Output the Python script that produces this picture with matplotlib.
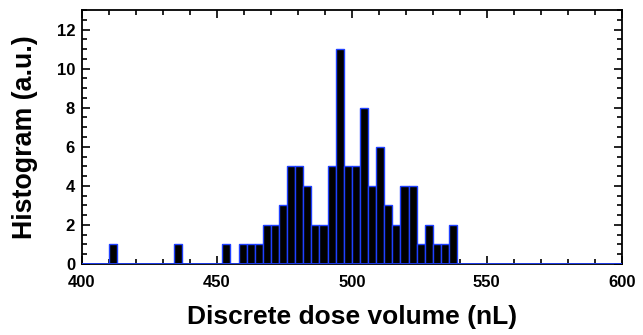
import matplotlib
matplotlib.use("Agg")
import matplotlib.pyplot as plt
from matplotlib.ticker import MultipleLocator

# Data: histogram bins (left edges, nL) and counts
bin_width = 3
bin_left = [410, 413, 416, 419, 422, 425, 428, 431, 434, 437, 440, 443, 446, 449,
            452, 455, 458, 461, 464, 467, 470, 473, 476, 479, 482, 485, 488, 491,
            494, 497, 500, 503, 506, 509, 512, 515, 518, 521, 524, 527, 530, 533, 536]
counts = [1, 0, 0, 0, 0, 0, 0, 0, 1, 0, 0, 0, 0, 0,
          1, 0, 1, 1, 1, 2, 2, 3, 5, 5, 4, 2, 2, 5,
          11, 5, 5, 8, 4, 6, 3, 2, 4, 4, 1, 2, 1, 1, 2]
x_ticks = [400, 450, 500, 550, 600]
y_ticks = [0, 2, 4, 6, 8, 10, 12]

plt.rcParams['font.family'] = ['Liberation Sans', 'DejaVu Sans']
plt.rcParams['font.weight'] = 'bold'

fig = plt.figure(figsize=(6.43, 3.35), dpi=100)
ax = fig.add_axes([0.1275, 0.212, 0.8395, 0.758])

edge_blue = '#1f40ff'
ax.bar(bin_left, counts, width=bin_width, align='edge', color='black',
       edgecolor=edge_blue, linewidth=1.0, zorder=2)
ax.axhline(0, color=edge_blue, linewidth=2.0, zorder=3)

ax.set_xlim(400, 600)
ax.set_ylim(0, 13)
ax.set_xticks(x_ticks)
ax.set_yticks(y_ticks)
ax.xaxis.set_minor_locator(MultipleLocator(10))
ax.yaxis.set_minor_locator(MultipleLocator(0.5))
ax.tick_params(which='both', direction='in', top=True, right=True,
               labelsize=12, width=1.2)
ax.tick_params(axis='x', pad=8)
ax.tick_params(axis='y', pad=5)
ax.tick_params(which='major', length=6)
ax.tick_params(which='minor', length=3.5)
for lbl in ax.get_xticklabels() + ax.get_yticklabels():
    lbl.set_fontweight('bold')
for s in ax.spines.values():
    s.set_linewidth(1.3)

ax.set_xlabel('Discrete dose volume (nL)', fontsize=19, fontweight='bold', labelpad=11)
ax.set_ylabel('Histogram (a.u.)', fontsize=19.3, fontweight='bold', labelpad=13)

fig.savefig('out.png', dpi=100)
